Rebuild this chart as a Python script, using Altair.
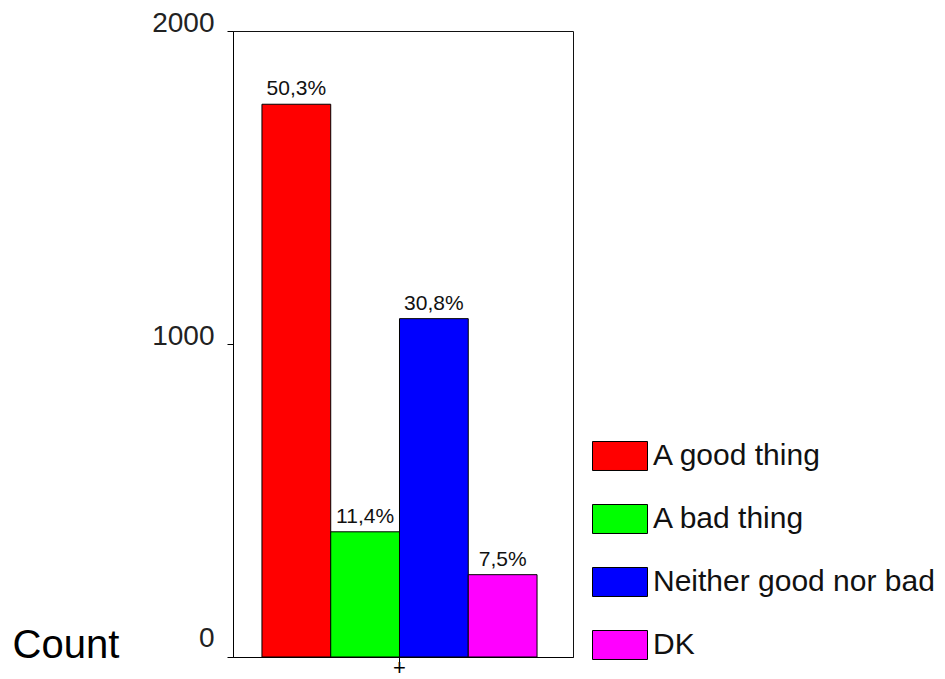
import altair as alt
import pandas as pd

# Survey answers and their counts
answers = ["A good thing", "A bad thing", "Neither good nor bad", "DK"]
counts = [1766, 400, 1081, 263]
colors = ["#ff0000", "#00ff00", "#0000ff", "#ff00ff"]
y_ticks = [0, 1000, 2000]

total = sum(counts)
df = pd.DataFrame({
    "group": ["all"] * len(answers),
    "answer": answers,
    "count": counts,
})
df["pct"] = [f"{c / total * 100:.1f}".replace(".", ",") + "%" for c in counts]

FONT = "Liberation Sans"
W, H = 340, 626

x_enc = alt.X(
    "group:N",
    title=None,
    scale=alt.Scale(paddingInner=0, paddingOuter=0.118, align=0.446),
    axis=alt.Axis(
        labelExpr="'+'", labelAngle=0, tickSize=5, tickColor="black",
        labelFontSize=22, labelPadding=5, labelBaseline="middle",
        labelColor="black", labelFont=FONT, domainColor="black",
    ),
)
xo_enc = alt.XOffset(
    "answer:N", sort=answers,
    scale=alt.Scale(paddingInner=0, paddingOuter=0),
)
y_enc = alt.Y(
    "count:Q",
    scale=alt.Scale(domain=[0, 2000], nice=False),
    axis=alt.Axis(
        values=y_ticks, format="d", grid=False, tickSize=6, tickColor="black",
        domainColor="black", labelFont=FONT, labelFontSize=28,
        labelColor="#222222", labelPadding=13,
        labelOffset={"condition": {"test": "datum.value == 0", "value": -19}, "value": -8},
        title="Count", titleAngle=0, titleFont=FONT, titleFontSize=40,
        titleFontWeight="normal", titleColor="black",
        titleAlign="left", titleBaseline="alphabetic",
        titleX=-221, titleY=626,
    ),
)

bars = alt.Chart(df).mark_bar(stroke="black", strokeWidth=1).encode(
    x=x_enc,
    xOffset=xo_enc,
    y=y_enc,
    color=alt.Color(
        "answer:N", sort=answers,
        scale=alt.Scale(domain=answers, range=colors),
        legend=alt.Legend(
            title=None, orient="none", legendX=359, legendY=397,
            symbolType="M-1,-0.527L1,-0.527L1,0.527L-1,0.527Z",
            symbolSize=3025, symbolStrokeColor="black", symbolStrokeWidth=1,
            symbolOpacity=1, labelFont=FONT, labelFontSize=30,
            labelColor="#111111", labelOffset=5, labelLimit=0,
            rowPadding=18,
        ),
    ),
)

labels = alt.Chart(df).mark_text(
    baseline="bottom", dy=-5, font=FONT, fontSize=21, color="#111111"
).encode(
    x=x_enc,
    xOffset=xo_enc,
    y=y_enc,
    text="pct:N",
)

chart = (
    alt.layer(bars, labels)
    .properties(
        width=W, height=H,
        background="white",
        autosize=alt.AutoSizeParams(type="none"),
        padding={"left": 233, "top": 31, "right": 945 - 233 - W, "bottom": 679 - 31 - H},
    )
    .configure_view(stroke="#111111", strokeWidth=1)
)

chart.save("out.html", embed_options={"renderer": "svg", "actions": False})
